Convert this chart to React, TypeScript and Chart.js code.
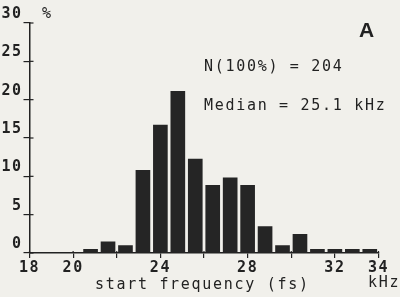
import React, { useEffect, useRef } from 'react';
import { Chart, registerables } from 'chart.js';
Chart.register(...registerables);

// Histogram bins (kHz, bin centres) and percentage of calls in each bin
const binCenters = [20.8, 21.6, 22.4, 23.2, 24.0, 24.8, 25.6, 26.4, 27.2, 28.0, 28.8, 29.6, 30.4, 31.2, 32.0, 32.8, 33.6];
const percentages = [0.49, 1.47, 0.98, 10.78, 16.67, 21.08, 12.25, 8.82, 9.8, 8.82, 3.43, 0.98, 2.45, 0.49, 0.49, 0.49, 0.49];
const xTicks = [18, 20, 22, 24, 26, 28, 30, 32, 34];
const xLabelled = [18, 20, 24, 28, 32, 34];
const yTicks = [0, 5, 10, 15, 20, 25, 30];
const xTitle = 'start frequency (fs)';
const xUnit = 'kHz';
const yUnit = '%';
const panelLabel = 'A';
const notes = ['N(100%) = 204', 'Median = 25.1 kHz'];

const INK = '#222222';
const BG = '#f1f0eb';
const MONO = '"DejaVu Sans Mono", monospace';

export default function App() {
  const ref = useRef<HTMLCanvasElement | null>(null);
  useEffect(() => {
    const canvas = ref.current;
    if (!canvas) return;
    const extras = {
      id: 'extras',
      beforeDraw(chart: any) {
        chart.ctx.letterSpacing = '1.5px';
      },
      afterDraw(chart: any) {
        const ctx = chart.ctx;
        const ys = chart.scales.y;
        const xs = chart.scales.x;
        const area = chart.chartArea;
        ctx.save();
        ctx.strokeStyle = INK;
        ctx.lineWidth = 1.2;
        // inner part of y ticks (crossing the axis)
        yTicks.forEach((v) => {
          const py = ys.getPixelForValue(v);
          ctx.beginPath();
          ctx.moveTo(area.left, py);
          ctx.lineTo(area.left + 4, py);
          ctx.stroke();
        });
        xTicks.forEach((v) => {
          const px = xs.getPixelForValue(v);
          ctx.beginPath();
          ctx.moveTo(px, area.bottom);
          ctx.lineTo(px, area.bottom - 2);
          ctx.stroke();
        });
        ctx.fillStyle = INK;
        ctx.letterSpacing = '1.7px';
        ctx.font = `15px ${MONO}`;
        ctx.textBaseline = 'middle';
        ctx.textAlign = 'left';
        ctx.fillText(notes[0], 204, 67.5);
        ctx.fillText(notes[1], 204, 106);
        ctx.fillText(xTitle, 95, 285.5);
        ctx.fillText(xUnit, 368, 283);
        ctx.fillText(yUnit, 42, 14.5);
        ctx.letterSpacing = '0px';
        ctx.font = 'bold 21px "Liberation Sans", Arial, sans-serif';
        ctx.fillText(panelLabel, 359, 31);
        ctx.restore();
      },
    };
    const chart = new Chart(canvas, {
      type: 'bar',
      data: {
        datasets: [
          {
            data: binCenters.map((x, i) => ({ x, y: percentages[i] })),
            backgroundColor: '#252525',
            borderWidth: 0,
            barThickness: 14,
          } as any,
        ],
      },
      options: {
        animation: false,
        responsive: false,
        devicePixelRatio: 1,
        layout: { padding: { left: 0, top: 23, right: 21.5, bottom: 0 } },
        plugins: { legend: { display: false }, tooltip: { enabled: false } },
        scales: {
          x: {
            type: 'linear',
            min: 18,
            max: 34,
            offset: false,
            afterBuildTicks: (s: any) => {
              s.ticks = xTicks.map((v) => ({ value: v }));
            },
            afterFit: (s: any) => {
              s.height = 44;
            },
            ticks: {
              autoSkip: false,
              maxRotation: 0,
              padding: 1,
              color: INK,
              font: { family: MONO, size: 15, weight: 'bold' },
              callback: (v: any) => (xLabelled.includes(Number(v)) ? String(v) : ''),
            },
            grid: { offset: false, drawOnChartArea: false, drawTicks: true, tickLength: 5, color: INK, lineWidth: 1.2 },
            border: { display: true, color: INK, width: 1.5 },
          },
          y: {
            type: 'linear',
            min: 0,
            max: 30,
            afterBuildTicks: (s: any) => {
              s.ticks = yTicks.map((v) => ({ value: v }));
            },
            afterFit: (s: any) => {
              s.width = 29.5;
            },
            ticks: {
              padding: 1,
              labelOffset: -9,
              color: INK,
              font: { family: MONO, size: 15, weight: 'bold' },
            },
            grid: { drawOnChartArea: false, drawTicks: true, tickLength: 6, color: INK, lineWidth: 1.2 },
            border: { display: true, color: INK, width: 1.5 },
          },
        },
      } as any,
      plugins: [extras],
    });
    return () => chart.destroy();
  }, []);
  return (
    <div style={{ position: 'fixed', left: 0, top: 0, width: 400, height: 297, background: BG }}>
      <canvas ref={ref} width={400} height={297} style={{ display: 'block', width: 400, height: 297 }} />
    </div>
  );
}
